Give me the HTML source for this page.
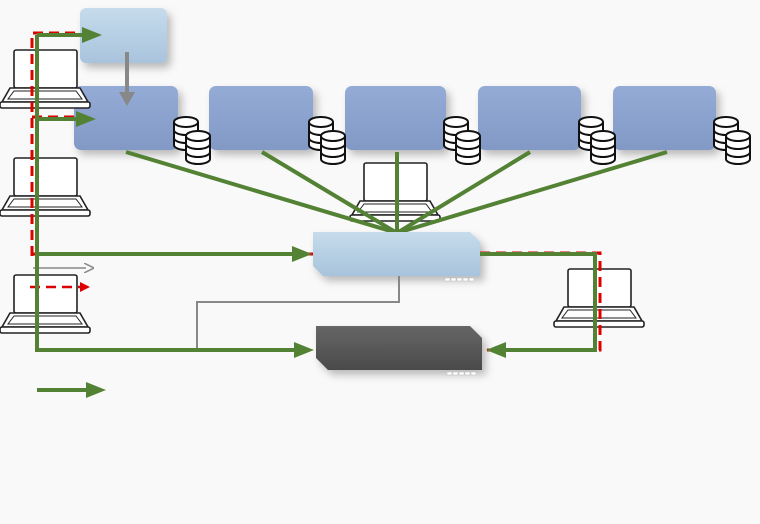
<!DOCTYPE html>
<html><head><meta charset="utf-8"><style>
html,body{margin:0;padding:0;background:#f9f9f9;}
svg{display:block;}
</style></head><body>
<svg width="760" height="524" viewBox="0 0 760 524" xmlns="http://www.w3.org/2000/svg">
<defs>
<filter id="sh" x="-20%" y="-20%" width="150%" height="160%"><feDropShadow dx="4" dy="5" stdDeviation="4" flood-color="#000" flood-opacity="0.25"/></filter>
<linearGradient id="bg1" x1="0" y1="0" x2="0" y2="1"><stop offset="0" stop-color="#94abd6"/><stop offset="1" stop-color="#8299c6"/></linearGradient>
<linearGradient id="bg2" x1="0" y1="0" x2="0" y2="1"><stop offset="0" stop-color="#c6dcec"/><stop offset="1" stop-color="#a8c3dc"/></linearGradient>
<linearGradient id="bg3" x1="0" y1="0" x2="0" y2="1"><stop offset="0" stop-color="#666"/><stop offset="1" stop-color="#4a4a4a"/></linearGradient>
<g id="lap" fill="#fff" stroke="#222" stroke-width="1.6">
<rect x="14" y="1" width="63" height="38" rx="2"/>
<path d="M10 39 L80 39 L88 53 L2 53 Z"/>
<path d="M14 42 L76 42 L82 50 L8 50 Z" fill="none" stroke-width="1"/>
<rect x="0" y="53" width="90" height="6" rx="2"/>
</g>
<g id="cyl" fill="#fff" stroke="#111" stroke-width="2">
<path d="M0 5 L0 28 A12 5 0 0 0 24 28 L24 5"/>
<ellipse cx="12" cy="5" rx="12" ry="5"/>
<path d="M0 13 A12 5 0 0 0 24 13 M0 21 A12 5 0 0 0 24 21" fill="none"/>
</g>
<g id="db"><use href="#cyl" x="0" y="0"/><use href="#cyl" x="12" y="14"/></g>
<marker id="ag" markerWidth="20" markerHeight="16" refX="2" refY="8" orient="auto" markerUnits="userSpaceOnUse"><path d="M0 0 L20 8 L0 16 Z" fill="#548235"/></marker>
<marker id="ar" markerWidth="10" markerHeight="10" refX="2" refY="5" orient="auto" markerUnits="userSpaceOnUse"><path d="M0 0 L10 5 L0 10 Z" fill="#d00"/></marker>
<marker id="agr" markerWidth="14" markerHeight="16" refX="2" refY="8" orient="auto" markerUnits="userSpaceOnUse"><path d="M0 0 L14 8 L0 16 Z" fill="#888"/></marker>
<marker id="agr2" markerWidth="10" markerHeight="10" refX="2" refY="5" orient="auto" markerUnits="userSpaceOnUse"><path d="M0 0 L10 5 L0 10" fill="none" stroke="#888" stroke-width="1.5"/></marker>
</defs>

<rect x="80" y="8" width="87" height="55" rx="6" fill="url(#bg2)" filter="url(#sh)"/>
<rect x="74" y="86" width="104" height="64" rx="7" fill="url(#bg1)" filter="url(#sh)"/>
<rect x="209" y="86" width="104" height="64" rx="7" fill="url(#bg1)" filter="url(#sh)"/>
<rect x="345" y="86" width="101" height="64" rx="7" fill="url(#bg1)" filter="url(#sh)"/>
<rect x="478" y="86" width="103" height="64" rx="7" fill="url(#bg1)" filter="url(#sh)"/>
<rect x="613" y="86" width="103" height="64" rx="7" fill="url(#bg1)" filter="url(#sh)"/>

<line x1="127" y1="52" x2="127" y2="94" stroke="#888" stroke-width="4" marker-end="url(#agr)"/>

<use href="#db" x="174" y="117"/>
<use href="#db" x="309" y="117"/>
<use href="#db" x="444" y="117"/>
<use href="#db" x="579" y="117"/>
<use href="#db" x="714" y="117"/>

<use href="#lap" x="350" y="162"/>

<g stroke="#548235" stroke-width="4" fill="none">
<line x1="126" y1="152" x2="397" y2="233"/>
<line x1="262" y1="152" x2="397" y2="233"/>
<line x1="397" y1="152" x2="397" y2="233"/>
<line x1="530" y1="152" x2="397" y2="233"/>
<line x1="667" y1="152" x2="397" y2="233"/>
</g>

<path d="M313 232 L470 232 L480 242 L480 276 L323 276 L313 266 Z" fill="url(#bg2)" filter="url(#sh)"/>
<path d="M316 326 L470 326 L482 338 L482 370 L328 370 L316 358 Z" fill="url(#bg3)" filter="url(#sh)"/>
<g fill="#fff" stroke="#bbb" stroke-width="0.5">
<rect x="445" y="278" width="5" height="3"/><rect x="451" y="278" width="5" height="3"/><rect x="457" y="278" width="5" height="3"/><rect x="463" y="278" width="5" height="3"/><rect x="469" y="278" width="5" height="3"/>
<rect x="447" y="372" width="5" height="3"/><rect x="453" y="372" width="5" height="3"/><rect x="459" y="372" width="5" height="3"/><rect x="465" y="372" width="5" height="3"/><rect x="471" y="372" width="5" height="3"/>
</g>

<use href="#lap" x="0" y="49"/>
<use href="#lap" x="0" y="157"/>
<use href="#lap" x="0" y="274"/>
<use href="#lap" x="554" y="268"/>

<path d="M197 350 L197 302 L399 302 L399 276" stroke="#888" stroke-width="2" fill="none"/>
<line x1="33" y1="268" x2="86" y2="268" stroke="#888" stroke-width="1.5" marker-end="url(#agr2)"/>

<g stroke="#d00" stroke-width="3" fill="none" stroke-dasharray="10 6">
<path d="M32 256 L32 33 L80 33"/>
<path d="M32 117 L75 117"/>
<path d="M32 254 L313 254"/>
<path d="M480 253 L600 253 L600 350 L484 350"/>
<line x1="30" y1="287" x2="82" y2="287" stroke-width="2.5" marker-end="url(#ar)"/>
</g>

<g stroke="#548235" stroke-width="4" fill="none">
<path d="M37 35 L37 350 L296 350" marker-end="url(#ag)"/>
<line x1="37" y1="35" x2="84" y2="35" marker-end="url(#ag)"/>
<line x1="37" y1="119" x2="78" y2="119" marker-end="url(#ag)"/>
<line x1="37" y1="254" x2="294" y2="254" marker-end="url(#ag)"/>
<path d="M480 254 L595 254 L595 350 L504 350" marker-end="url(#ag)"/>
<line x1="37" y1="390" x2="88" y2="390" marker-end="url(#ag)"/>
</g>
</svg>
</body></html>
